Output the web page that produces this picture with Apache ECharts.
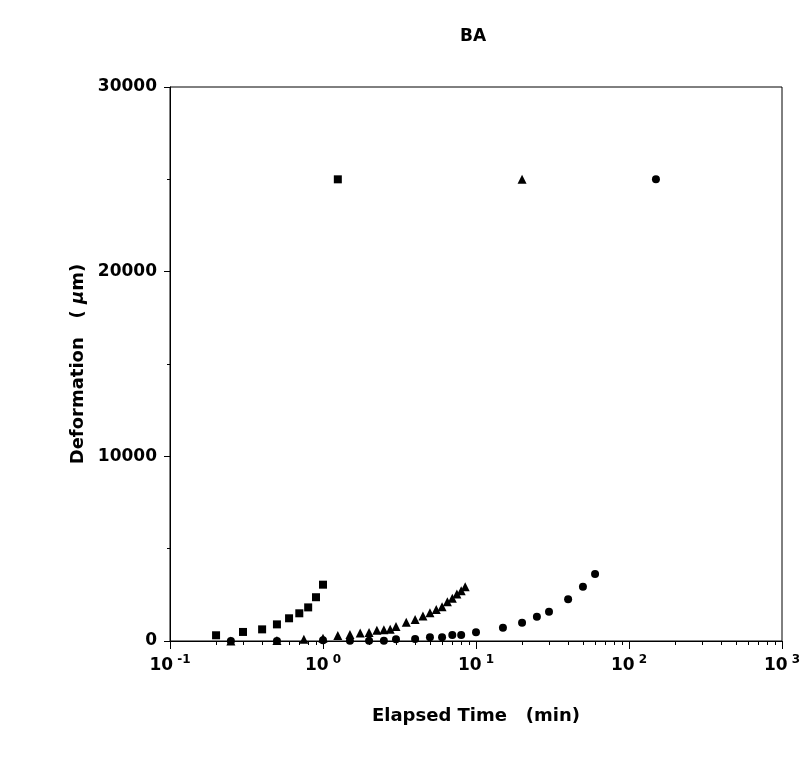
<!DOCTYPE html>
<html>
<head>
<meta charset="utf-8">
<script src="https://cdn.jsdelivr.net/npm/echarts@6/dist/echarts.min.js"></script>
<style>html,body{margin:0;padding:0;background:#fff;}#c{width:806px;height:759px;}</style>
</head>
<body>
<div id="c"></div>
<script>
// ---- data ----
const squareX = [0.2, 0.3, 0.4, 0.5, 0.6, 0.7, 0.8, 0.9, 1.0];
const squareY = [310, 490, 630, 900, 1230, 1500, 1820, 2370, 3050];

const triangleX = [0.25, 0.5, 0.75, 1.0, 1.25, 1.5, 1.75, 2.0, 2.25, 2.5, 2.75, 3.0, 3.5, 4, 4.5, 5, 5.5, 6, 6.5, 7, 7.5, 8, 8.5];
const triangleY = [0, 30, 100, 150, 300, 350, 430, 460, 580, 610, 640, 790, 1020, 1170, 1350, 1530, 1710, 1860, 2130, 2310, 2540, 2720, 2940];

const circleX = [0.25, 0.5, 1.0, 1.5, 2, 2.5, 3, 4, 5, 6, 7, 8, 10, 15, 20, 25, 30, 40, 50, 60];
const circleY = [0, 0, 40, 20, 20, 20, 90, 110, 200, 200, 325, 325, 470, 720, 990, 1315, 1585, 2255, 2940, 3630];

const keyX = [1.25, 20, 150];
const keyY = [25000, 25000, 25000];

const xTickExponents = [-1, 0, 1, 2, 3];
const xTickLabels = ['-1', '0', '1', '2', '3'];
const yTickValues = [0, 10000, 20000, 30000];

const titleText = 'BA';
const xAxisTitle = 'Elapsed Time   (min)';
const yAxisTitleA = 'Deformation   ( ';
const yAxisTitleMu = 'μ';
const yAxisTitleB = 'm)';

// ---- build ----
const pairs = (xs, ys) => xs.map((x, i) => [x, ys[i]]);
const minorExp = [];
for (let d = 0; d < xTickExponents.length - 1; d++) {
  for (let k = 2; k <= 9; k++) minorExp.push(xTickExponents[d] + Math.log10(k));
}
const FONT = 'DejaVu Sans';
const lo = xTickExponents[0], hi = xTickExponents[xTickExponents.length - 1];

const chart = echarts.init(document.getElementById('c'), null, {renderer: 'canvas'});
chart.setOption({
  animation: false,
  backgroundColor: '#fff',
  title: {
    text: titleText, left: 468, top: 23, textAlign: 'center',
    textStyle: {fontFamily: FONT, fontSize: 17, fontWeight: 'bold', color: '#000'}
  },
  grid: {left: 170, right: 24, top: 87, bottom: 118, show: true, borderColor: '#000', borderWidth: 1, backgroundColor: 'transparent'},
  xAxis: [{
    type: 'log', logBase: 10, min: Math.pow(10, lo), max: Math.pow(10, hi), position: 'bottom',
    axisLine: {show: true, onZero: false, lineStyle: {color: '#000', width: 1}},
    axisTick: {show: false}, axisLabel: {show: false}, splitLine: {show: false}
  }, {
    type: 'value', min: lo, max: hi, position: 'bottom',
    name: xAxisTitle, nameLocation: 'middle', nameGap: 66,
    nameTextStyle: {fontFamily: FONT, fontSize: 18, fontWeight: 'bold', color: '#000'},
    axisLine: {show: false, onZero: false},
    axisTick: {show: true, length: 8, interval: 0, lineStyle: {color: '#000'}, customValues: xTickExponents},
    axisLabel: {
      customValues: xTickExponents,
      margin: 13,
      formatter: function (v) {
        const i = xTickExponents.indexOf(Math.round(v));
        return '{b|10}{s|' + (i >= 0 ? xTickLabels[i] : '') + '}';
      },
      rich: {
        b: {fontFamily: FONT, fontSize: 17, fontWeight: 'bold', color: '#000'},
        s: {fontFamily: FONT, fontSize: 12, fontWeight: 'bold', color: '#000', padding: [0, 0, 12, 4]}
      }
    },
    splitLine: {show: false}
  }, {
    type: 'value', min: lo, max: hi, position: 'bottom',
    axisLine: {show: false, onZero: false},
    axisTick: {show: true, length: 4, interval: 0, lineStyle: {color: '#000'}, customValues: minorExp},
    axisLabel: {show: false},
    splitLine: {show: false}
  }],
  yAxis: [{
    type: 'value', min: 0, max: 30000, interval: 10000,
    name: '{a|' + yAxisTitleA + '}{m|' + yAxisTitleMu + '}{a|' + yAxisTitleB + '}',
    nameLocation: 'middle', nameRotate: 90, nameGap: 69,
    nameTextStyle: {
      rich: {
        a: {fontFamily: FONT, fontSize: 18, fontWeight: 'bold', color: '#000'},
        m: {fontFamily: FONT, fontSize: 18, fontWeight: 'bold', color: '#000', fontStyle: 'italic'}
      }
    },
    axisLine: {show: true, onZero: false, lineStyle: {color: '#000', width: 1}},
    axisTick: {show: true, length: 6, lineStyle: {color: '#000'}},
    minorTick: {show: true, splitNumber: 2, length: 3, lineStyle: {color: '#000'}},
    axisLabel: {margin: 13, fontFamily: FONT, fontSize: 17, fontWeight: 'bold', color: '#000',
      formatter: function (v) { return String(v); }},
    splitLine: {show: false},
    minorSplitLine: {show: false}
  }],
  series: [
    {type: 'scatter', name: 'square', xAxisIndex: 0, symbol: 'rect', symbolSize: 8, itemStyle: {color: '#000', opacity: 1}, data: pairs(squareX, squareY)},
    {type: 'scatter', name: 'triangle', xAxisIndex: 0, symbol: 'triangle', symbolSize: 9, itemStyle: {color: '#000', opacity: 1}, data: pairs(triangleX, triangleY)},
    {type: 'scatter', name: 'circle', xAxisIndex: 0, symbol: 'circle', symbolSize: 8, itemStyle: {color: '#000', opacity: 1}, data: pairs(circleX, circleY)},
    {type: 'scatter', name: 'key', xAxisIndex: 0, symbolSize: 8, itemStyle: {color: '#000', opacity: 1},
      data: [
        {value: [keyX[0], keyY[0]], symbol: 'rect'},
        {value: [keyX[1], keyY[1]], symbol: 'triangle', symbolSize: 9},
        {value: [keyX[2], keyY[2]], symbol: 'circle'}
      ]}
  ]
});
</script>
</body>
</html>
